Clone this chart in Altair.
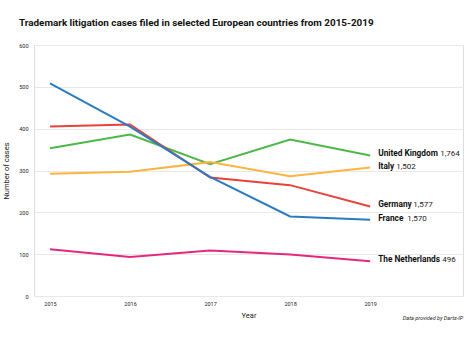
import altair as alt
import pandas as pd

years = [2015, 2016, 2017, 2018, 2019]
countries = ["United Kingdom", "Italy", "Germany", "France", "The Netherlands"]
uk = [353, 386, 315, 374, 336]
italy = [292, 297, 320, 286, 307]
germany = [405, 410, 283, 265, 214]
france = [508, 405, 285, 190, 182]
netherlands = [112, 93, 109, 99, 83]
totals = ["1,764", "1,502", "1,577", "1,570", "496"]
colors = ["#4db848", "#fbb540", "#e8423b", "#2b7bc0", "#e4287f"]
y_ticks = [0, 100, 200, 300, 400, 500, 600]

series = [uk, italy, germany, france, netherlands]
rows = []
for c, vals in zip(countries, series):
    for yr, v in zip(years, vals):
        rows.append({"Country": c, "Year": yr, "Cases": v})
df = pd.DataFrame(rows)

labels = pd.DataFrame({
    "Country": countries,
    "Year": [years[-1]] * len(countries),
    "Cases": [s[-1] for s in series],
    "Total": totals,
})

FONT = "Roboto"
W, H = 429, 251

x_scale = alt.Scale(domain=[2014.8, 2020.16], nice=False, zero=False)
y_scale = alt.Scale(domain=[0, 600], nice=False)
color_scale = alt.Scale(domain=countries, range=colors)

base = alt.Chart(df)

lines = base.mark_line(strokeWidth=2).encode(
    x=alt.X("Year:Q", scale=x_scale,
            axis=alt.Axis(values=years, format="d", title="Year", grid=False,
                          domain=False, ticks=False, labelFontSize=5.5,
                          labelPadding=5, titleFontSize=7.5, titleFontWeight="normal",
                          titlePadding=5, labelFont=FONT, titleFont=FONT,
                          labelColor="#222", titleColor="#222")),
    y=alt.Y("Cases:Q", scale=y_scale,
            axis=alt.Axis(values=y_ticks, title="Number of cases", grid=True,
                          gridColor="#e8e8e8", gridWidth=1, domain=False,
                          ticks=False, labelFontSize=5.5, labelPadding=6,
                          titleFontSize=7.5, titleFontWeight="normal",
                          titlePadding=8, labelFont=FONT, titleFont=FONT,
                          labelColor="#222", titleColor="#222")),
    color=alt.Color("Country:N", scale=color_scale, legend=None),
    detail="Country:N",
)

# Approximate pixel widths of the bold names for positioning the totals
name_widths = {"United Kingdom": 60, "Italy": 16, "Germany": 33,
               "France": 27, "The Netherlands": 62}

layers = [lines]
lab_base = alt.Chart(labels)
name_layer = lab_base.mark_text(align="left", baseline="middle", dx=8, dy=-1,
                                fontWeight="bold", fontSize=8.3, font=FONT,
                                color="#111").encode(
    x=alt.X("Year:Q", scale=x_scale),
    y=alt.Y("Cases:Q", scale=y_scale),
    text="Country:N",
)
layers.append(name_layer)
for c in countries:
    layers.append(
        lab_base.transform_filter(alt.datum.Country == c).mark_text(
            align="left", baseline="middle", dx=8 + name_widths[c] + 2, dy=-1,
            fontSize=8, font=FONT, color="#222").encode(
            x=alt.X("Year:Q", scale=x_scale),
            y=alt.Y("Cases:Q", scale=y_scale),
            text="Total:N",
        )
    )

source = alt.Chart(pd.DataFrame({"t": ["Data provided by Darts-IP"]})).mark_text(
    align="right", baseline="middle", fontSize=5.5, fontStyle="italic",
    font=FONT, color="#222").encode(
    x=alt.value(W), y=alt.value(H + 22), text="t:N")
layers.append(source)

chart = alt.layer(*layers).properties(
    width=W, height=H,
    title=alt.TitleParams(
        "Trademark litigation cases filed in selected European countries from 2015-2019",
        anchor="start", frame="group", dx=-15, fontSize=9.9, fontWeight="bold",
        font=FONT, color="#111", offset=15),
    autosize=alt.AutoSizeParams(type="none"),
    padding={"left": 34, "top": 45, "right": 9, "bottom": 41},
).configure_view(stroke=None).configure(background="white")

chart.save("out.html", embed_options={"renderer": "svg", "actions": False})
